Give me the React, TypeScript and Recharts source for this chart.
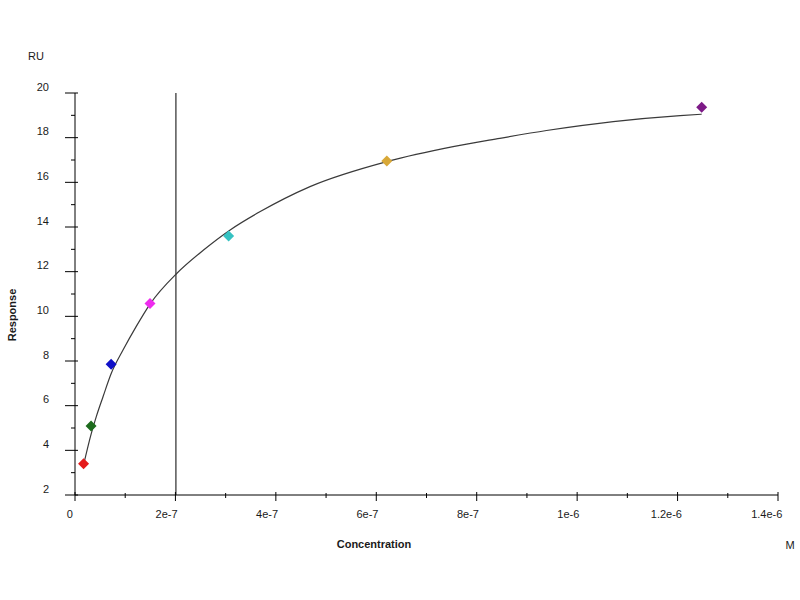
import {
  ComposedChart,
  Line,
  Scatter,
  Cell,
  XAxis,
  YAxis,
  ReferenceLine,
  Customized,
} from "recharts";

// measured points (concentration in M, response in RU)
const pointConc = [1.7e-8, 3.2e-8, 7.2e-8, 1.494e-7, 3.06e-7, 6.21e-7, 1.248e-6];
const pointResp = [3.4, 5.09, 7.85, 10.58, 13.6, 16.96, 19.36];

// fitted curve
const curveConc = [
  1.7e-8, 3.25e-8, 4.24e-8, 5.58e-8, 7.23e-8, 9.56e-8, 1.22e-7, 1.494e-7,
  2.03e-7, 2.56e-7, 3.09e-7, 3.68e-7, 4.68e-7, 6.21e-7, 7.53e-7, 8.46e-7,
  9.39e-7, 1.072e-6, 1.205e-6, 1.248e-6,
];
const curveResp = [
  3.34, 4.76, 5.51, 6.4, 7.45, 8.49, 9.55, 10.55, 11.93, 12.97, 13.87, 14.68,
  15.81, 16.93, 17.6, 17.97, 18.32, 18.72, 18.99, 19.05,
];

const kdLine = 2.01e-7;

const xTicks = [
  0, 1e-7, 2e-7, 3e-7, 4e-7, 5e-7, 6e-7, 7e-7, 8e-7, 9e-7, 1e-6, 1.1e-6,
  1.2e-6, 1.3e-6, 1.4e-6,
];
const xMajorTicks = [0, 2e-7, 4e-7, 6e-7, 8e-7, 1e-6, 1.2e-6, 1.4e-6];
const xMajorLabels = ["0", "2e-7", "4e-7", "6e-7", "8e-7", "1e-6", "1.2e-6", "1.4e-6"];

const yTicks = [2, 3, 4, 5, 6, 7, 8, 9, 10, 11, 12, 13, 14, 15, 16, 17, 18, 19, 20];
const yMajorTicks = [2, 4, 6, 8, 10, 12, 14, 16, 18, 20];

const pointColors = ["#e41b1b", "#1d6b1d", "#1010c8", "#ee2cee", "#35c2c2", "#d8a838", "#7d1a87"];

const FONT = "'Liberation Sans', Arial, sans-serif";
const INK = "#1a1a1a";

const points = pointConc.map((x, i) => ({ x, y: pointResp[i] }));
const curve = curveConc.map((x, i) => ({ x, y: curveResp[i] }));

const isMajor = (list: number[], v: number) =>
  list.findIndex((m) => Math.abs(m - v) < 1e-12);

function XTick({ x, y, payload }: any) {
  const idx = isMajor(xMajorTicks, payload.value);
  if (idx < 0) {
    return <line x1={x} x2={x} y1={y - 2} y2={y + 3} stroke="#000" />;
  }
  const label = xMajorLabels[idx];
  return (
    <g>
      <line x1={x} x2={x} y1={y - 3} y2={y + 6} stroke="#000" />
      <text
        x={x - 4 - 1.2 * label.length}
        y={y + 23}
        textAnchor="middle"
        fontSize={11}
        fontFamily={FONT}
        fill={INK}
      >
        {label}
      </text>
    </g>
  );
}

function YTick({ x, y, payload }: any) {
  const idx = isMajor(yMajorTicks, payload.value);
  if (idx < 0) {
    return <line x1={x - 4} x2={x} y1={y} y2={y} stroke="#000" />;
  }
  return (
    <g>
      <line x1={x - 10} x2={x + 3} y1={y} y2={y} stroke="#000" />
      <text
        x={x - 26}
        y={y - 2.5}
        textAnchor="end"
        fontSize={11}
        fontFamily={FONT}
        fill={INK}
      >
        {payload.value}
      </text>
    </g>
  );
}

function Diamond({ cx, cy, fill }: any) {
  const r = 5.5;
  return (
    <polygon
      points={`${cx},${cy - r} ${cx + r},${cy} ${cx},${cy + r} ${cx - r},${cy}`}
      fill={fill}
    />
  );
}

function AxisTitles() {
  return (
    <g fontFamily={FONT} fill={INK}>
      <text x={36} y={60} textAnchor="middle" fontSize={11}>
        RU
      </text>
      <text x={790} y={549} textAnchor="middle" fontSize={11}>
        M
      </text>
      <text x={374} y={548} textAnchor="middle" fontSize={11} fontWeight="bold">
        Concentration
      </text>
      <text
        x={16}
        y={315}
        textAnchor="middle"
        fontSize={11}
        fontWeight="bold"
        transform="rotate(-90 16 315)"
      >
        Response
      </text>
    </g>
  );
}

export default function App() {
  return (
    <div style={{ position: "absolute", left: 0, top: 0, background: "#fff" }}>
      <ComposedChart
        width={800}
        height={600}
        margin={{ top: 93, right: 22, left: 0, bottom: 75 }}
      >
        <XAxis
          type="number"
          dataKey="x"
          domain={[0, 1.4e-6]}
          ticks={xTicks}
          interval={0}
          tickLine={false}
          tickSize={0}
          tickMargin={0}
          tick={<XTick />}
          axisLine={{ stroke: "#000" }}
          height={30}
          allowDataOverflow
        />
        <YAxis
          type="number"
          dataKey="y"
          domain={[2, 20]}
          ticks={yTicks}
          interval={0}
          tickLine={false}
          tickSize={0}
          tickMargin={0}
          tick={<YTick />}
          axisLine={{ stroke: "#000" }}
          width={75}
          allowDataOverflow
        />
        <ReferenceLine x={kdLine} stroke="#000" strokeWidth={1} />
        <Line
          data={curve}
          dataKey="y"
          type="monotone"
          stroke="#3a3a3a"
          strokeWidth={1.2}
          dot={false}
          activeDot={false}
          isAnimationActive={false}
        />
        <Scatter data={points} dataKey="y" shape={<Diamond />} isAnimationActive={false}>
          {points.map((_, i) => (
            <Cell key={i} fill={pointColors[i]} />
          ))}
        </Scatter>
        <Customized component={<AxisTitles />} />
      </ComposedChart>
    </div>
  );
}
